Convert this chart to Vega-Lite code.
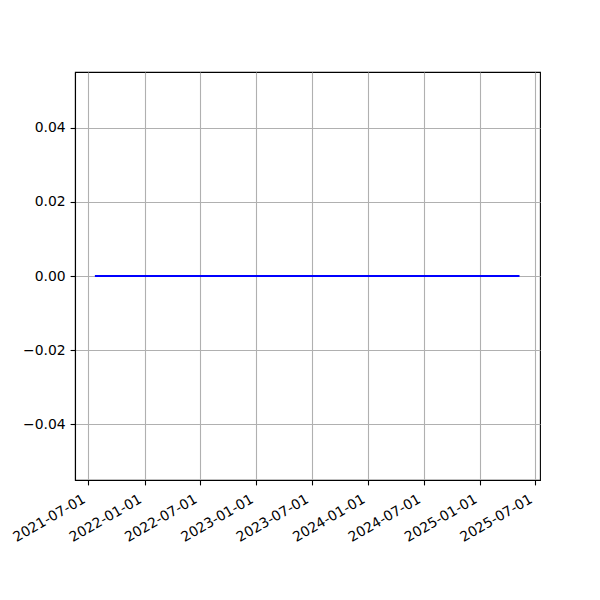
{
  "$schema": "https://vega.github.io/schema/vega-lite/v6.json",
  "width": 465,
  "height": 408,
  "autosize": {"type": "none"},
  "padding": {"left": 75, "top": 72, "right": 60, "bottom": 120},
  "background": "white",
  "config": {
    "view": {"stroke": "black", "strokeWidth": 1.1},
    "axis": {
      "labelFont": "DejaVu Sans",
      "labelFontSize": 13.9,
      "labelColor": "black",
      "tickColor": "black",
      "tickWidth": 1.1,
      "tickSize": 4.9,
      "labelPadding": 4.9,
      "domainColor": "black",
      "domainWidth": 1.1,
      "gridColor": "#b0b0b0",
      "gridWidth": 1.1,
      "title": null
    }
  },
  "data": {
    "values": [
      {"date": "2021-07-22", "value": 0},
      {"date": "2022-01-01", "value": 0},
      {"date": "2022-07-01", "value": 0},
      {"date": "2023-01-01", "value": 0},
      {"date": "2023-07-01", "value": 0},
      {"date": "2024-01-01", "value": 0},
      {"date": "2024-07-01", "value": 0},
      {"date": "2025-01-01", "value": 0},
      {"date": "2025-05-10", "value": 0}
    ]
  },
  "mark": {"type": "line", "color": "#0000ff", "strokeWidth": 2.08, "clip": true},
  "encoding": {
    "x": {
      "field": "date",
      "type": "temporal",
      "scale": {
        "type": "utc",
        "domain": [
          {"year": 2021, "month": 5, "date": 18, "utc": true},
          {"year": 2025, "month": 7, "date": 16, "utc": true}
        ]
      },
      "axis": {
        "values": [
          {"year": 2021, "month": 7, "date": 1, "utc": true},
          {"year": 2022, "month": 1, "date": 1, "utc": true},
          {"year": 2022, "month": 7, "date": 1, "utc": true},
          {"year": 2023, "month": 1, "date": 1, "utc": true},
          {"year": 2023, "month": 7, "date": 1, "utc": true},
          {"year": 2024, "month": 1, "date": 1, "utc": true},
          {"year": 2024, "month": 7, "date": 1, "utc": true},
          {"year": 2025, "month": 1, "date": 1, "utc": true},
          {"year": 2025, "month": 7, "date": 1, "utc": true}
        ],
        "labelExpr": "utcFormat(datum.value, '%Y-%m-%d')",
        "labelAngle": -30,
        "labelAlign": "right",
        "labelBaseline": "top",
        "labelOffset": -8,
        "labelPadding": 7,
        "labelOverlap": false,
        "labelFlush": false,
        "grid": true
      }
    },
    "y": {
      "field": "value",
      "type": "quantitative",
      "scale": {"domain": [-0.055, 0.055], "nice": false, "zero": false},
      "axis": {
        "values": [-0.04, -0.02, 0, 0.02, 0.04],
        "format": ".2f",
        "grid": true,
        "labelOverlap": false,
        "labelFlush": false
      }
    }
  }
}
